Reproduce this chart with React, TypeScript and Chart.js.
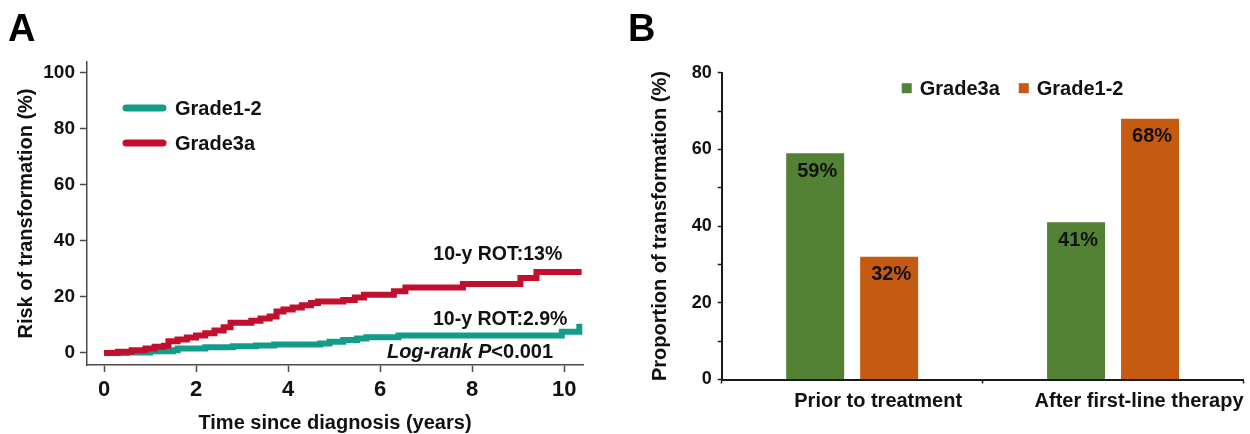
import React, { useEffect, useRef } from 'react';
import { Chart, registerables } from 'chart.js';

Chart.register(...registerables);

const SANS = '"Liberation Sans", Arial, Helvetica, sans-serif';

// ---------- Panel A: cumulative risk of transformation ----------
const grade12Label = 'Grade1-2';
const grade3aLabel = 'Grade3a';

const grade12Times = [0, 0.5, 1.0, 1.5, 1.6, 2.2, 2.8, 3.3, 3.7, 4.7, 4.9, 5.2, 5.5, 5.7, 6.4, 9.95, 10.33];
const grade12Risk = [0, 0.2, 0.6, 1.0, 1.6, 2.0, 2.4, 2.7, 3.0, 3.4, 4.0, 4.6, 5.2, 5.6, 6.2, 7.6, 10.4];

const grade3aTimes = [0, 0.3, 0.6, 0.9, 1.1, 1.3, 1.4, 1.6, 1.8, 2.0, 2.2, 2.4, 2.6, 2.75, 3.2, 3.4, 3.6, 3.75, 3.9, 4.1, 4.3, 4.5, 4.65, 5.2, 5.45, 5.65, 6.3, 6.55, 7.8, 9.05, 9.4, 10.38];
const grade3aRisk = [0, 0.4, 1.0, 1.6, 2.2, 2.6, 4.2, 4.8, 5.5, 6.2, 7.0, 8.0, 9.2, 10.8, 11.5, 12.3, 13.0, 14.8, 15.5, 16.2, 17.0, 17.8, 18.4, 18.9, 19.8, 20.8, 22.0, 23.4, 24.6, 26.8, 28.9, 28.9];

const riskTicks = [0, 20, 40, 60, 80, 100];
const timeTicks = [0, 2, 4, 6, 8, 10];

const rotGrade3aText = '10-y ROT:13%';
const rotGrade12Text = '10-y ROT:2.9%';
const logRankItalicText = 'Log-rank P';
const logRankValueText = '<0.001';

// ---------- Panel B: proportion of transformation ----------
const treatmentCategories = ['Prior to treatment', 'After first-line therapy'];
const grade3aProportion = [59, 41];
const grade12Proportion = [32, 68];
const proportionTicks = [0, 10, 20, 30, 40, 50, 60, 70, 80];
const proportionTickLabels = ['0', '', '20', '', '40', '', '60', '', '80'];

const TEAL = '#149c8b';
const RED = '#c30f2e';
const GREEN = '#548235';
const ORANGE = '#c55a11';
const AXIS_A = '#4a4a4a';
const AXIS_B = '#1a1a1a';
const TEXT = '#111111';

const legendA = {
  id: 'legendA',
  afterDraw(chart: any) {
    const { ctx, chartArea } = chart;
    ctx.save();
    chart.data.datasets.forEach((ds: any, i: number) => {
      const y = chartArea.top + 46 + i * 35;
      const x0 = chartArea.left + 39;
      ctx.strokeStyle = ds.borderColor;
      ctx.lineWidth = 7;
      ctx.lineCap = 'round';
      ctx.beginPath();
      ctx.moveTo(x0, y);
      ctx.lineTo(x0 + 37, y);
      ctx.stroke();
      ctx.fillStyle = TEXT;
      ctx.font = `bold 20px ${SANS}`;
      ctx.textBaseline = 'middle';
      ctx.textAlign = 'left';
      ctx.fillText(ds.label, x0 + 49, y + 1);
    });
    ctx.restore();
  },
};

const annotationsA = {
  id: 'annotationsA',
  afterDraw(chart: any) {
    const { ctx } = chart;
    const xs = chart.scales.x;
    const ys = chart.scales.y;
    ctx.save();
    ctx.fillStyle = TEXT;
    ctx.textBaseline = 'middle';
    ctx.textAlign = 'right';
    ctx.font = `bold 19.5px ${SANS}`;
    ctx.fillText(rotGrade3aText, xs.getPixelForValue(9.96), ys.getPixelForValue(35));
    ctx.fillText(rotGrade12Text, xs.getPixelForValue(10.07), ys.getPixelForValue(11.8));
    const right = xs.getPixelForValue(9.76);
    const y = ys.getPixelForValue(0.3);
    ctx.font = `bold 20px ${SANS}`;
    const wValue = ctx.measureText(logRankValueText).width;
    ctx.fillText(logRankValueText, right, y);
    ctx.font = `italic bold 20px ${SANS}`;
    ctx.fillText(logRankItalicText, right - wValue, y);
    ctx.restore();
  },
};

const legendB = {
  id: 'legendB',
  afterDraw(chart: any) {
    const { ctx, chartArea } = chart;
    ctx.save();
    ctx.font = `bold 20px ${SANS}`;
    ctx.textBaseline = 'middle';
    ctx.textAlign = 'left';
    let x = chartArea.left + 180;
    const y = chartArea.top + 15.5;
    chart.data.datasets.forEach((ds: any) => {
      ctx.fillStyle = ds.backgroundColor;
      ctx.fillRect(x, y - 5, 10, 10);
      ctx.fillStyle = TEXT;
      ctx.fillText(ds.label, x + 18, y + 1);
      x += 18 + ctx.measureText(ds.label).width + 19;
    });
    ctx.restore();
  },
};

const valueLabelsB = {
  id: 'valueLabelsB',
  afterDatasetsDraw(chart: any) {
    const { ctx } = chart;
    ctx.save();
    ctx.font = `bold 20px ${SANS}`;
    ctx.fillStyle = TEXT;
    ctx.textAlign = 'center';
    ctx.textBaseline = 'middle';
    chart.data.datasets.forEach((ds: any, i: number) => {
      const meta = chart.getDatasetMeta(i);
      meta.data.forEach((bar: any, j: number) => {
        ctx.fillText(`${ds.data[j]}%`, bar.x + 2, bar.y + 18);
      });
    });
    ctx.restore();
  },
};

function toPoints(times: number[], values: number[]) {
  return times.map((t, i) => ({ x: t, y: values[i] }));
}

export default function App() {
  const refA = useRef<HTMLCanvasElement | null>(null);
  const refB = useRef<HTMLCanvasElement | null>(null);

  useEffect(() => {
    const chartA = new Chart(refA.current as HTMLCanvasElement, {
      type: 'line',
      data: {
        datasets: [
          {
            label: grade12Label,
            data: toPoints(grade12Times, grade12Risk),
            borderColor: TEAL,
            backgroundColor: TEAL,
            borderWidth: 6,
            pointRadius: 0,
            stepped: true,
            fill: false,
            order: 1,
          },
          {
            label: grade3aLabel,
            data: toPoints(grade3aTimes, grade3aRisk),
            borderColor: RED,
            backgroundColor: RED,
            borderWidth: 6,
            pointRadius: 0,
            stepped: true,
            fill: false,
            order: 0,
          },
        ],
      },
      options: {
        animation: false,
        responsive: false,
        events: [],
        layout: { padding: { left: 8, right: 37, top: 0, bottom: 0 } },
        plugins: {
          legend: { display: false },
          tooltip: { enabled: false },
          title: {
            display: true,
            text: 'A',
            align: 'start',
            color: '#000',
            font: { family: SANS, size: 38, weight: 'bold' },
            padding: { top: 8, bottom: 8.4 },
          },
        },
        scales: {
          x: {
            type: 'linear',
            min: -0.37,
            max: 10.41,
            afterBuildTicks: (s: any) => {
              s.ticks = timeTicks.map((v) => ({ value: v }));
            },
            ticks: {
              font: { family: SANS, size: 22, weight: 'bold' },
              color: TEXT,
              padding: 5,
              maxRotation: 0,
              autoSkip: false,
            },
            grid: {
              display: true,
              drawOnChartArea: false,
              drawTicks: true,
              tickLength: 7,
              tickWidth: 1.5,
              tickColor: AXIS_A,
            },
            border: { display: true, color: AXIS_A, width: 1.5 },
            title: {
              display: true,
              text: 'Time since diagnosis (years)',
              color: TEXT,
              font: { family: SANS, size: 20, weight: 'bold' },
              padding: { top: 2.6, bottom: -1 },
            },
          },
          y: {
            type: 'linear',
            min: -4.3,
            max: 103.9,
            afterBuildTicks: (s: any) => {
              s.ticks = riskTicks.map((v) => ({ value: v }));
            },
            ticks: {
              font: { family: SANS, size: 19, weight: 'bold' },
              color: TEXT,
              padding: 5,
            },
            grid: {
              display: true,
              drawOnChartArea: false,
              drawTicks: true,
              tickLength: 7,
              tickWidth: 1.5,
              tickColor: AXIS_A,
            },
            border: { display: true, color: AXIS_A, width: 1.5 },
            title: {
              display: true,
              text: 'Risk of transformation (%)',
              color: TEXT,
              font: { family: SANS, size: 20, weight: 'bold' },
              padding: { top: 6, bottom: 0.3 },
            },
          },
        },
      },
      plugins: [legendA, annotationsA],
    } as any);

    const chartB = new Chart(refB.current as HTMLCanvasElement, {
      type: 'bar',
      data: {
        labels: treatmentCategories,
        datasets: [
          { label: grade3aLabel, data: grade3aProportion, backgroundColor: GREEN, borderWidth: 0 },
          { label: grade12Label, data: grade12Proportion, backgroundColor: ORANGE, borderWidth: 0 },
        ],
      },
      options: {
        animation: false,
        responsive: false,
        events: [],
        layout: { padding: { left: 8, right: 36.5, top: 0, bottom: 14.5 } },
        datasets: { bar: { categoryPercentage: 0.567, barPercentage: 0.784 } },
        plugins: {
          legend: { display: false },
          tooltip: { enabled: false },
          title: {
            display: true,
            text: 'B',
            align: 'start',
            color: '#000',
            font: { family: SANS, size: 38, weight: 'bold' },
            padding: { top: 8, bottom: 19.1 },
          },
        },
        scales: {
          x: {
            ticks: {
              font: { family: SANS, size: 20, weight: 'bold' },
              color: TEXT,
              padding: 6,
              labelOffset: 26,
              maxRotation: 0,
              autoSkip: false,
            },
            grid: {
              display: true,
              drawOnChartArea: false,
              drawTicks: true,
              tickLength: 4,
              tickWidth: 1.5,
              tickColor: AXIS_B,
              offset: true,
            },
            border: { display: true, color: AXIS_B, width: 2 },
          },
          y: {
            min: 0,
            max: 80,
            afterBuildTicks: (s: any) => {
              s.ticks = proportionTicks.map((v) => ({ value: v }));
            },
            ticks: {
              callback: (_v: any, i: number) => proportionTickLabels[i],
              font: { family: SANS, size: 18, weight: 'bold' },
              color: TEXT,
              padding: 6,
            },
            grid: {
              display: true,
              drawOnChartArea: false,
              drawTicks: true,
              tickLength: 4,
              tickWidth: 1.5,
              tickColor: AXIS_B,
            },
            border: { display: true, color: AXIS_B, width: 2 },
            title: {
              display: true,
              text: 'Proportion of transformation (%)',
              color: TEXT,
              font: { family: SANS, size: 20, weight: 'bold' },
              padding: { top: 20, bottom: 13.7 },
            },
          },
        },
      },
      plugins: [legendB, valueLabelsB],
    } as any);

    return () => {
      chartA.destroy();
      chartB.destroy();
    };
  }, []);

  return (
    <div
      style={{
        position: 'absolute',
        left: 0,
        top: 0,
        width: 1250,
        height: 434,
        overflow: 'hidden',
        background: '#ffffff',
      }}
    >
      <canvas
        ref={refA}
        width={620}
        height={434}
        style={{ position: 'absolute', left: 0, top: 0, width: 620, height: 434 }}
      />
      <canvas
        ref={refB}
        width={660}
        height={434}
        style={{ position: 'absolute', left: 620, top: 0, width: 660, height: 434 }}
      />
    </div>
  );
}
